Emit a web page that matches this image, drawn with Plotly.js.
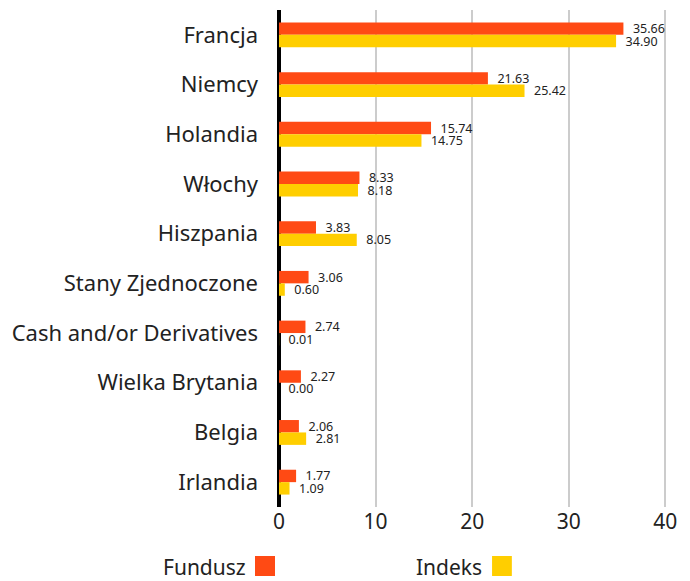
<!DOCTYPE html>
<html><head><meta charset="utf-8">
<script src="https://cdn.plot.ly/plotly-3.0.1.min.js"></script>
<style>body{margin:0;background:#fff}#chart{width:690px;height:581px}</style>
</head><body><div id="chart"></div>
<script>
const categories = ["Francja","Niemcy","Holandia","Włochy","Hiszpania","Stany Zjednoczone","Cash and/or Derivatives","Wielka Brytania","Belgia","Irlandia"];
const fundusz = [35.66,21.63,15.74,8.33,3.83,3.06,2.74,2.27,2.06,1.77];
const indeks = [34.90,25.42,14.75,8.18,8.05,0.60,0.01,0.00,2.81,1.09];
const seriesNames = ["Fundusz","Indeks"];
const colors = ["#FF4A14","#FFCE00"];
const xTicks = [0,10,20,30,40];

const font = "Noto Sans, sans-serif";
function mk(vals, i){
  return {type:"bar", orientation:"h", name:seriesNames[i], y:categories, x:vals,
    marker:{color:colors[i]}, texttemplate:"\u00a0\u00a0%{x:.2f}", textposition:"outside",
    constraintext:"none", cliponaxis:false,
    textfont:{family:font,size:12.5,color:"#222"}, hoverinfo:"x+y"};
}
const layout = {
  width:690, height:581, margin:{l:279,r:15,t:10,b:74},
  paper_bgcolor:"#fff", plot_bgcolor:"#fff",
  barmode:"group", bargap:0.5, bargroupgap:0, showlegend:false,
  font:{family:font,color:"#222"},
  xaxis:{range:[0,41], tickvals:xTicks, showgrid:true, gridcolor:"#cccccc", gridwidth:2,
    zeroline:true, zerolinecolor:"#000", zerolinewidth:4, showline:false,
    tickfont:{size:21,color:"#222"}, ticks:"", fixedrange:true},
  yaxis:{autorange:"reversed", showgrid:false, zeroline:false, showline:false, ticks:"",
    ticklabelstandoff:20, tickfont:{size:22,color:"#222"}},
  annotations:[
    {xref:"paper",yref:"paper",x:-0.0783,y:-0.1207,xanchor:"right",yanchor:"middle",text:"Fundusz",showarrow:false,font:{size:21,color:"#222"}},
    {xref:"paper",yref:"paper",x:0.5177,y:-0.1207,xanchor:"right",yanchor:"middle",text:"Indeks",showarrow:false,font:{size:21,color:"#222"}}
  ],
  shapes:[
    {type:"rect",xref:"paper",yref:"paper",x0:-0.0606,x1:-0.0101,y0:-0.1388,y1:-0.0986,fillcolor:colors[0],line:{width:0}},
    {type:"rect",xref:"paper",yref:"paper",x0:0.538,x1:0.588,y0:-0.1388,y1:-0.0986,fillcolor:colors[1],line:{width:0}}
  ]
};
Plotly.newPlot("chart",[mk(fundusz,0),mk(indeks,1)],layout,{displayModeBar:false,staticPlot:true});
</script></body></html>
